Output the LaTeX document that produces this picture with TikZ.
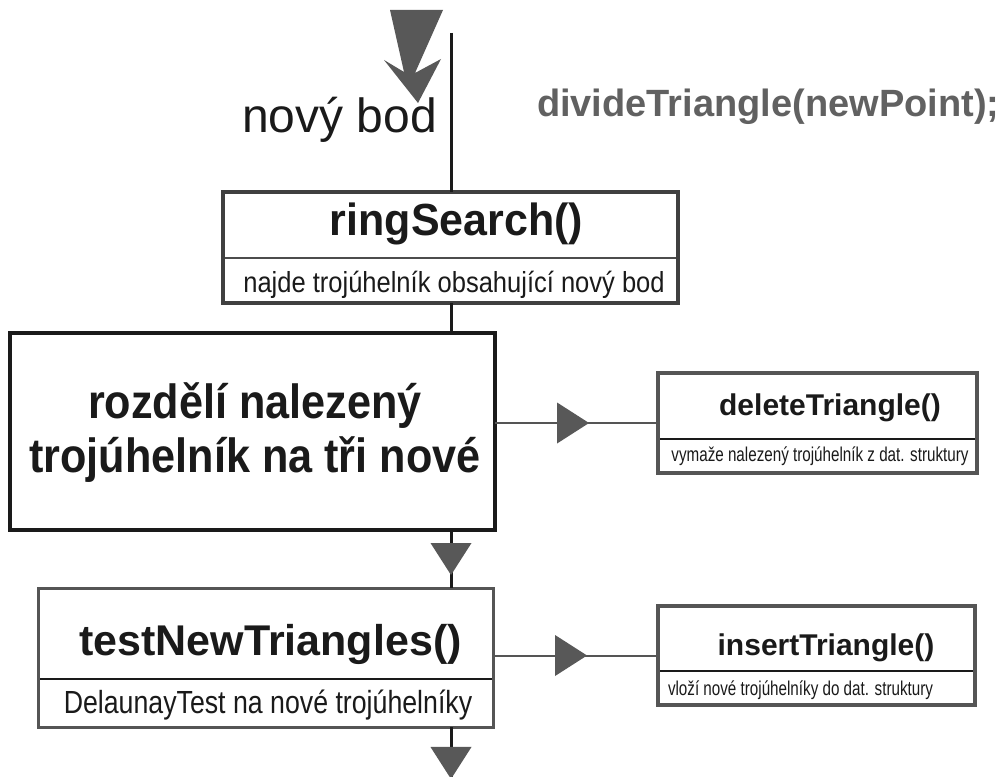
\documentclass[tikz,border=0pt]{standalone}
\usepackage{fontspec}
\setmainfont{Liberation Sans}
\newfontfamily\subfont[FakeStretch=0.835]{Liberation Sans}
\newfontfamily\tinyfont[FakeStretch=0.76]{Liberation Sans}
\newfontfamily\narrowfont[FakeStretch=0.88]{Liberation Sans}
\newfontfamily\headfont[FakeStretch=0.9]{Liberation Sans}
\newfontfamily\titlefont[FakeStretch=0.955]{Liberation Sans}
\usetikzlibrary{decorations.markings,fit}
\newcommand\fsz[1]{\fontsize{#1}{#1}\selectfont}
\definecolor{arrowgray}{HTML}{585858}
\definecolor{framegray}{HTML}{555555}
\definecolor{inkgray}{HTML}{1A1A1A}
\definecolor{codegray}{HTML}{616161}
\begin{document}
\begin{tikzpicture}[x=1pt,y=-1pt,
  part/.style={draw=#1, line width=1.8pt, inner sep=0pt, outer sep=0pt},
  part/.default=inkgray,
  frame/.style={draw=#1, line width=3.5pt, inner sep=0pt, outer sep=0pt},
  bigbox/.style={draw=inkgray, line width=4pt, inner sep=0pt, outer sep=0pt},
  txt/.style={inner sep=0pt, outer sep=0pt, text=inkgray, anchor=base},
  spineline/.style={draw=inkgray, line width=3pt},
  sideline/.style={draw=framegray, line width=2pt},
  midtri/.style={postaction={decorate}, decoration={markings,
    mark=at position #1 with {\fill[arrowgray] (0pt,0pt) -- (-32pt,20.5pt) -- (-32pt,-20.5pt) -- cycle;}}}
]
\clip (0,0) rectangle (1003,776);
\fill[white] (0,0) rectangle (1003,776);

% spine positions
\coordinate (spine) at (451,0);
\coordinate (top) at (451,33);
\coordinate (bot) at (451,800);

% ringSearch box
\node[part=black!70, minimum width=455pt, minimum height=66pt] (rsT) at (450.5,225) {};
\node[part=black!70, minimum width=455pt, minimum height=45pt] (rsB) at (450.5,280.5) {};
\node[frame=black!75, fit=(rsT)(rsB)] (rs) {};

% splitting box
\node[bigbox, minimum width=485pt, minimum height=197pt] (big) at (252.5,431.5) {};

% testNewTriangles box
\node[part, minimum width=455pt, minimum height=91pt] (tnT) at (265.5,633.5) {};
\node[part, minimum width=455pt, minimum height=48pt] (tnB) at (265.5,703) {};
\node[frame=framegray, line width=3pt, fit=(tnT)(tnB)] (tn) {};

% deleteTriangle box
\node[part, minimum width=319pt, minimum height=66pt] (delT) at (817.5,406) {};
\node[part, minimum width=319pt, minimum height=34pt] (delB) at (817.5,456) {};
\node[frame=framegray, fit=(delT)(delB)] (del) {};

% insertTriangle box
\node[part, minimum width=317pt, minimum height=65pt] (insT) at (816.5,638.5) {};
\node[part, minimum width=317pt, minimum height=34pt] (insB) at (816.5,688) {};
\node[frame=framegray, fit=(insT)(insB)] (ins) {};

% connectors along the spine
\draw[spineline] (top) -- (rs.north -| spine);
\draw[spineline] (rs.south -| spine) -- (big.north -| spine);
\draw[spineline, midtri=0.776] (big.south -| spine) -- (tn.north -| spine);
\draw[spineline, midtri=0.712] (tn.south -| spine) -- (bot);

% side connectors
\draw[sideline, midtri=0.577] (big.east |- del.west) -- (del.west);
\draw[sideline, midtri=0.57] (tn.east |- ins.west) -- (ins.west);

% incoming point arrow
\fill[arrowgray] (390,10) -- (443,10) -- (415,73) -- (441,59) -- (418,103)
  -- (384,60) -- (404,72) -- cycle;

% texts
\node[txt, anchor=base west] (newpt) at (242,132) {\fsz{48}nový bod};
\node[txt, anchor=base west, text=codegray] (call) at (537,116) {\fsz{38}\bfseries divideTriangle(newPoint);};

\node[txt] (rsTitle) at (456.5,235) {\titlefont\fsz{45}\bfseries ringSearch()};
\node[txt] (rsSub) at (454,292) {\narrowfont\fsz{29}najde trojúhelník obsahující nový bod};

\node[txt] (bigL1) at (255,418) {\headfont\fsz{48}\bfseries rozdělí nalezený};
\node[txt] (bigL2) at (255,472) {\headfont\fsz{48}\bfseries trojúhelník na tři nové};

\node[txt] (tnTitle) at (270.5,655) {\fsz{43}\bfseries testNewTriangles()};
\node[txt] (tnSub) at (268,713) {\subfont\fsz{32}DelaunayTest na nové trojúhelníky};

\node[txt] (delTitle) at (830,415) {\fsz{30}\bfseries deleteTriangle()};
\node[txt] (delSub) at (820,461) {\tinyfont\fsz{20}vymaže nalezený trojúhelník z dat. struktury};

\node[txt] (insTitle) at (826,655) {\fsz{30}\bfseries insertTriangle()};
\node[txt, anchor=base west] (insSub) at (668,695) {\tinyfont\fsz{20}vloží nové trojúhelníky do dat. struktury};
\end{tikzpicture}
\end{document}
